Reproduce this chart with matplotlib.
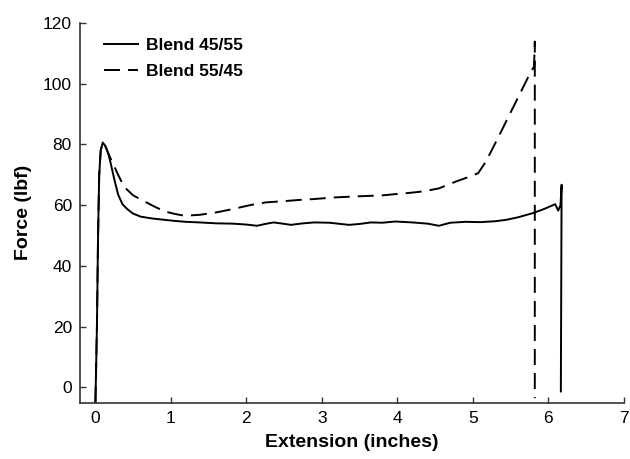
import numpy as np
import matplotlib
matplotlib.use("Agg")
from matplotlib import pyplot as plt

plt.rcParams['font.family'] = ['Liberation Sans', 'DejaVu Sans']
plt.rcParams['lines.scale_dashes'] = False

# Blend 45/55 (solid)
x_a = [0.0, 0.02, 0.035, 0.05, 0.07, 0.097, 0.13, 0.17, 0.20, 0.25, 0.30, 0.36,
       0.43, 0.50, 0.60, 0.75, 0.90, 1.05, 1.20, 1.38, 1.60, 1.82, 2.00, 2.14,
       2.25, 2.36, 2.48, 2.59, 2.75, 2.90, 3.10, 3.36, 3.50, 3.65, 3.80, 3.97,
       4.20, 4.40, 4.55, 4.70, 4.90, 5.10, 5.30, 5.45, 5.60, 5.80, 5.95, 6.09,
       6.13, 6.16, 6.175, 6.165]
y_a = [-5, 20, 50, 70, 78, 80.6, 79.5, 77, 74, 68.5, 63.5, 60.2,
       58.5, 57.2, 56.2, 55.6, 55.2, 54.8, 54.5, 54.3, 54.0, 53.9, 53.6, 53.2,
       53.8, 54.3, 53.9, 53.5, 54.0, 54.3, 54.2, 53.5, 53.8, 54.3, 54.2, 54.6,
       54.3, 53.9, 53.2, 54.2, 54.5, 54.4, 54.7, 55.2, 56.0, 57.4, 58.8, 60.3,
       58.2, 60.0, 66.7, -1.3]

# Blend 55/45 (dashed)
x_b = [0.0, 0.02, 0.035, 0.05, 0.07, 0.097, 0.13, 0.17, 0.23, 0.30, 0.38, 0.50,
       0.65, 0.80, 0.92, 1.05, 1.18, 1.38, 1.60, 1.82, 2.05, 2.26, 2.50, 2.70,
       2.90, 3.15, 3.40, 3.59, 3.80, 3.97, 4.15, 4.34, 4.55, 4.78, 4.95, 5.07,
       5.15, 5.23, 5.35, 5.45, 5.56, 5.67, 5.75, 5.81, 5.82, 5.82]
y_b = [-5, 20, 50, 70, 78, 80.6, 79.5, 77, 73.8, 70, 66, 63.2,
       61.2, 59.3, 57.9, 57.1, 56.5, 56.8, 57.6, 58.7, 60.0, 60.9, 61.3, 61.7,
       62.0, 62.5, 62.8, 63.0, 63.2, 63.6, 64.0, 64.5, 65.5, 67.8, 69.3, 70.5,
       73.5, 77.1, 83.0, 88.0, 93.5, 99.0, 103.0, 105.6, 113.8, -3.5]

x_ticks = [0, 1, 2, 3, 4, 5, 6, 7]
y_ticks = [0, 20, 40, 60, 80, 100, 120]

fig = plt.figure(figsize=(6.3, 4.59), dpi=100)
ax = fig.add_axes([0.1275, 0.1227, 0.8628, 0.8278])

ax.plot(x_a, y_a, color='black', lw=1.4, label='Blend 45/55')
ax.plot(x_b, y_b, color='black', lw=1.4, dashes=(11.5, 5.8), label='Blend 55/45')

ax.set_xlim(-0.2, 7)
ax.set_ylim(-5, 120)
ax.set_xticks(x_ticks)
ax.set_yticks(y_ticks)

for s in ['top', 'right']:
    ax.spines[s].set_visible(False)
for s in ['left', 'bottom']:
    ax.spines[s].set_color('#333333')
    ax.spines[s].set_linewidth(1.2)

ax.tick_params(direction='in', length=4.3, width=1.0, color='#333333',
               labelsize=12.5, pad=6)

ax.set_xlabel('Extension (inches)', fontsize=14, fontweight='bold', labelpad=6)
ax.set_ylabel('Force (lbf)', fontsize=14, fontweight='bold', labelpad=8)

leg = ax.legend(loc='upper left', bbox_to_anchor=(0.043, 0.96), frameon=False,
                prop={'weight': 'bold', 'size': 12.5}, handlelength=1.95,
                handletextpad=0.5, labelspacing=0.6, borderpad=0,
                borderaxespad=0)

plt.savefig('out.png', dpi=100)
